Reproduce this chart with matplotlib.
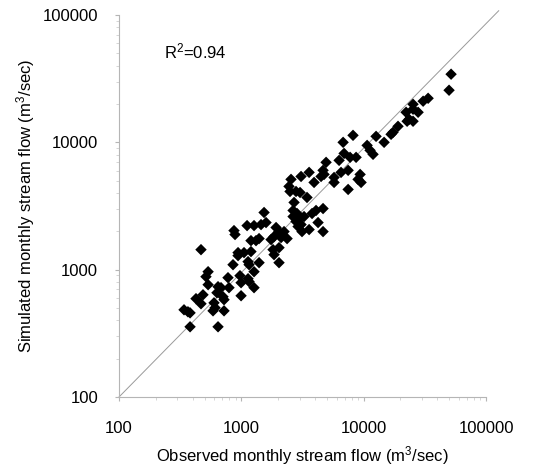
import matplotlib.pyplot as plt
import numpy as np

plt.rcParams['font.family'] = ['Liberation Sans', 'DejaVu Sans']

# observed vs simulated monthly stream flow (m3/sec)
observed = [340, 366, 381, 381, 645, 426, 468, 486, 598, 610, 587, 722, 632, 645, 682,
            708, 722, 793, 535, 514, 535, 778, 975, 995, 1135, 1157, 1270, 995, 855, 1135,
            1157, 1270, 1396, 940, 1052, 1199, 940, 468, 1199, 1318, 1396, 871, 888, 1114, 1270,
            1449, 1592, 1534, 1750, 1851, 2113, 2366, 1816, 1851, 2033, 2033, 1923, 2234, 3133, 3581,
            4656, 4238, 2698, 2648, 2854, 2648, 2965, 2800, 2909, 3077, 3257, 3786, 4080, 4656, 3443,
            2548, 2453, 2500, 2800, 3020, 3581, 3077, 3931, 4656, 4745, 4483, 4930, 5729, 5729, 6531,
            7464, 6297, 6918, 7745, 8670, 6792, 8184, 10670, 11280, 11930, 12630, 14690, 16750, 17380, 19090,
            22230, 23510, 25330, 22650, 25330, 25330, 27860, 30620, 33640, 49890, 51830, 9354, 9000, 9526, 7464,
            2033]
simulated = [484, 467, 458, 356, 356, 592, 540, 635, 549, 502, 475, 475, 659, 735, 722,
             613, 581, 722, 762, 881, 964, 865, 897, 790, 849, 805, 722, 624, 1094, 1156,
             1094, 964, 1135, 1361, 1361, 1387, 1289, 1436, 1690, 1690, 1754, 2027, 1888, 2219, 2219,
             2260, 2344, 2812, 1722, 1820, 1787, 1754, 1436, 1312, 1489, 1135, 2143, 1991, 1991, 2065,
             1991, 2344, 3373, 2917, 2761, 2612, 2522, 2388, 2181, 2260, 2612, 2761, 2917, 3020, 3690,
             5118, 4508, 4113, 4113, 4037, 5808, 5395, 4842, 6026, 5598, 5395, 6966, 5297, 4842, 5808,
             6026, 7217, 8184, 7624, 7624, 10000, 11350, 9464, 8650, 8050, 11140, 10000, 11560, 11990, 13360,
             17220, 15170, 14640, 14640, 19910, 18200, 17220, 21040, 22180, 25650, 34280, 5598, 5118, 4842, 4266,
             1991]

line_x = [100, 127000]
line_y = [100, 108000]
ticks = [100, 1000, 10000, 100000]
r2_text = r'$\mathregular{R^2}$=0.94'

fig = plt.figure(figsize=(5.48, 4.71), dpi=100)
ax = fig.add_axes([119/548, 1 - 397/471, 367/548, 382/471])

ax.plot(line_x, line_y, color='#9a9a9a', lw=0.7, clip_on=False, zorder=1)
ax.scatter(observed, simulated, marker='D', s=34, color='black', edgecolors='none', zorder=2)

ax.set_xscale('log')
ax.set_yscale('log')
ax.set_xlim(100, 100000)
ax.set_ylim(100, 100000)
ax.set_xticks(ticks)
ax.set_yticks(ticks)
ax.set_xticklabels([str(t) for t in ticks])
ax.set_yticklabels([str(t) for t in ticks])

# faint scanned-looking axes
for s in ['top', 'right']:
    ax.spines[s].set_visible(False)
for s in ['left', 'bottom']:
    ax.spines[s].set_color('#b5b5b5')
    ax.spines[s].set_linewidth(0.8)
ax.tick_params(which='major', length=3, color='#b5b5b5', labelsize=12)
ax.tick_params(axis='x', which='major', pad=14)
ax.tick_params(axis='y', which='major', pad=12)
ax.tick_params(which='minor', length=2, color='#cfcfcf')

ax.text(233, 52000, r2_text, fontsize=12, va='center', ha='left')

ax.set_xlabel(r'Observed monthly stream flow (m$\mathregular{^3}$/sec)', fontsize=12, labelpad=6)
ax.set_ylabel(r'Simulated monthly stream flow (m$\mathregular{^3}$/sec)', fontsize=12, labelpad=4)

plt.savefig('out.png', dpi=100)
